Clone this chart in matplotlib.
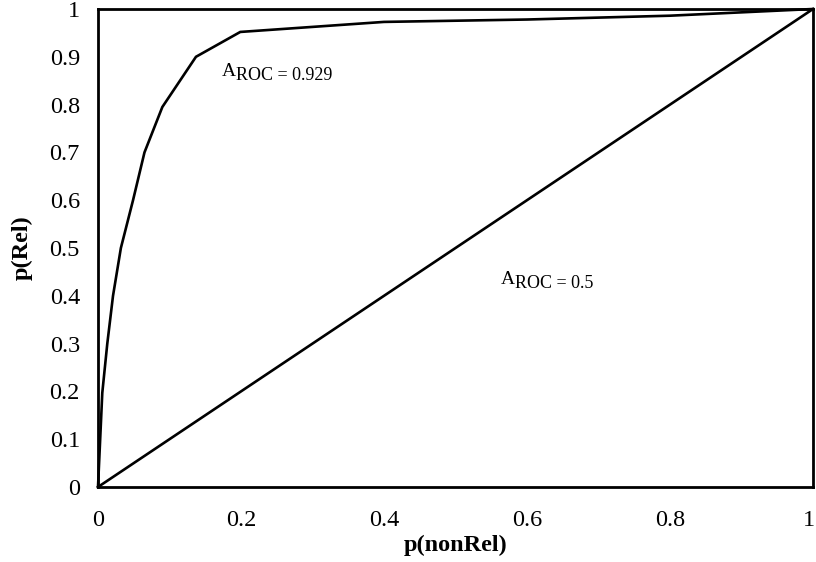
import matplotlib
matplotlib.use("Agg")
import matplotlib.pyplot as plt
import matplotlib.transforms as mtransforms

# ROC curve data
p_nonrel = [0.0, 0.006, 0.013, 0.021, 0.032, 0.049, 0.065, 0.090, 0.137, 0.199, 0.400, 0.600, 0.800, 1.0]
p_rel    = [0.0, 0.197, 0.300, 0.400, 0.500, 0.600, 0.700, 0.795, 0.900, 0.952, 0.973, 0.978, 0.986, 1.0]
# chance line
chance_x = [0.0, 1.0]
chance_y = [0.0, 1.0]

x_ticks = [0, 0.2, 0.4, 0.6, 0.8, 1]
x_tick_labels = ["0", "0.2", "0.4", "0.6", "0.8", "1"]
y_ticks = [0, 0.1, 0.2, 0.3, 0.4, 0.5, 0.6, 0.7, 0.8, 0.9, 1]
y_tick_labels = ["0", "0.1", "0.2", "0.3", "0.4", "0.5", "0.6", "0.7", "0.8", "0.9", "1"]

auc_curve = "0.929"
auc_chance = "0.5"

plt.rcParams['font.family'] = ['Liberation Serif', 'DejaVu Serif']

fig = plt.figure(figsize=(8.16, 5.62), dpi=100)
ax = fig.add_axes([98/816, 1 - 487/562, (813 - 98)/816, (487 - 9)/562])

ax.plot(p_nonrel, p_rel, color="black", lw=1.9, solid_joinstyle="miter", clip_on=False)
ax.plot(chance_x, chance_y, color="black", lw=1.9, clip_on=False)

ax.set_xlim(0, 1)
ax.set_ylim(0, 1)
ax.set_xticks(x_ticks)
ax.set_xticklabels(x_tick_labels)
ax.set_yticks(y_ticks)
ax.set_yticklabels(y_tick_labels)
ax.tick_params(axis="both", length=0, labelsize=17.5, colors="black")
ax.tick_params(axis="x", pad=16.5)
ax.tick_params(axis="y", pad=13)

# nudge the last x tick label inward so it stays inside the figure
last = ax.get_xticklabels()[-1]
last.set_transform(last.get_transform() + mtransforms.ScaledTranslation(-4/100, 0, fig.dpi_scale_trans))

for s in ax.spines.values():
    s.set_linewidth(2.0)
    s.set_color("black")

ax.set_xlabel("p(nonRel)", fontsize=17.5, fontweight="bold", labelpad=3)
ax.set_ylabel("p(Rel)", fontsize=17.5, fontweight="bold", labelpad=12)

def aroc(x, y, val):
    ax.text(x, y, "A", fontsize=14, ha="left", va="baseline")
    ax.annotate("ROC = " + val, xy=(x, y), xycoords="data",
                xytext=(10.5, -3.0), textcoords="offset points",
                fontsize=13, ha="left", va="baseline")

aroc(0.173, 0.86, auc_curve)
aroc(0.563, 0.425, auc_chance)

fig.savefig("out.png", dpi=100)
